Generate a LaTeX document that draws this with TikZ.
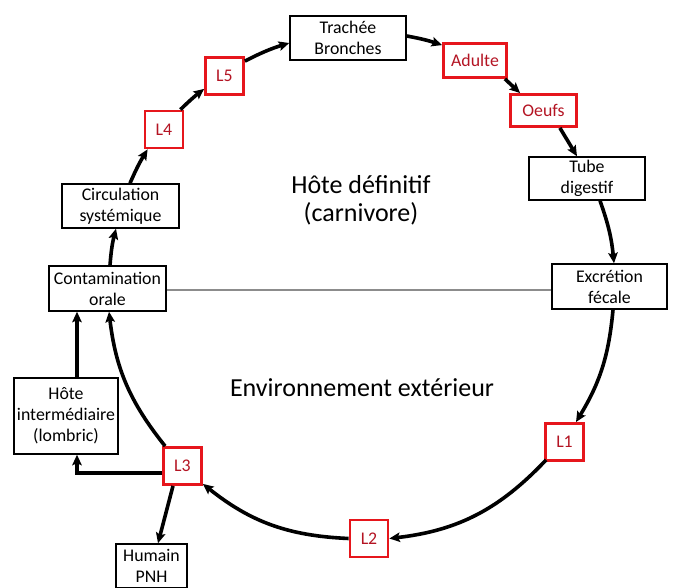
\documentclass[tikz,border=0pt]{standalone}
\usepackage{fontspec}
\setmainfont{Carlito}
\usetikzlibrary{arrows.meta}
\definecolor{stageframe}{RGB}{230,22,28}
\definecolor{stagetext}{RGB}{180,20,35}
\definecolor{divider}{RGB}{140,140,140}
\begin{document}
\begin{tikzpicture}[x=1pt,y=-1pt,
  box/.style={draw=black,line width=1.5pt,align=center,inner sep=0pt,fill=white,
    font=\fontsize{17.8}{21}\selectfont},
  stage/.style={draw=stageframe,line width=2.8pt,align=center,inner sep=0pt,fill=white,
    text=stagetext,font=\fontsize{17.8}{21}\selectfont,minimum width=38pt,minimum height=37pt},
  flow/.style={line width=3.6pt,-{Stealth[length=10.5pt,width=9.5pt,inset=2pt]}},
  big/.style={align=center,font=\fontsize{26}{28}\selectfont}
]
\useasboundingbox (0,0) rectangle (675,588);

% divider between host and environment
\draw[divider,line width=1.2pt] (166,290) -- (552,290);

% boxes
\node[box,minimum width=116pt,minimum height=44pt] (trach) at (348,38) {Trachée\\Bronches};
\node[stage,minimum width=63pt,minimum height=34pt] (adulte) at (475,60.5) {Adulte};
\node[stage,minimum width=66pt,minimum height=32pt] (oeufs) at (543.5,110.5) {Oeufs};
\node[box,minimum width=116pt,minimum height=43pt] (tube) at (587,178.5) {Tube\\digestif};
\node[box,minimum width=115pt,minimum height=45pt] (excr) at (609.5,286.5) {Excrétion\\fécale};
\node[stage] (l1) at (564.5,442) {L1};
\node[stage] (l2) at (369,538.5) {L2};
\node[stage] (l3) at (182.5,466) {L3};
\node[box,minimum width=71pt,minimum height=44pt] (hum) at (151.5,566) {Humain\\PNH};
\node[box,minimum width=104pt,minimum height=76pt] (hote) at (66,416) {Hôte\\intermédiaire\\(lombric)};
\node[box,minimum width=117pt,minimum height=45pt] (cont) at (107.5,288.5) {Contamination\\orale};
\node[box,minimum width=117pt,minimum height=44pt] (circ) at (120.5,206) {Circulation\\systémique};
\node[stage] (l4) at (164,129.5) {L4};
\node[stage] (l5) at (224.5,76) {L5};

% region labels
\node[big] (hd) at (361,200) {Hôte définitif\\(carnivore)};
\node[big] (env) at (362,388) {Environnement extérieur};

% life cycle
\draw[flow] ([xshift=2.5pt]cont.north) to[bend left=5] ([xshift=-4.5pt]circ.south);
\draw[flow] ([xshift=9.5pt]circ.north) to[bend left=4] ([xshift=4pt]l4.south west);
\draw[flow] ([xshift=-4pt]l4.north east) to[bend left=3] ([yshift=7pt]l5.south west);
\draw[flow] ([yshift=-5pt]l5.north east) to[bend left=5] ([yshift=-5pt]trach.west);
\draw[flow] ([yshift=2pt]trach.east) to[bend left=4] ([yshift=-3pt]adulte.north west);
\draw[flow] ([xshift=-3pt]adulte.south east) -- ([xshift=11pt]oeufs.north west);
\draw[flow] ([xshift=-18pt]oeufs.south east) -- ([xshift=-10pt]tube.north);
\draw[flow] ([xshift=13pt]tube.south) to[bend left=7] ([xshift=4.5pt]excr.north);
\draw[flow] ([xshift=3.5pt]excr.south) to[bend left=13] ([xshift=11.5pt]l1.north);
\draw[flow] ([xshift=2pt,yshift=2pt]l1.south west) to[bend left=20] (l2.east);
\draw[flow] (l2.west) to[bend left=18] ([yshift=2pt]l3.south east);
\draw[flow] ([xshift=3pt]l3.north west) to[bend left=16] ([xshift=1.5pt]cont.south);

% side routes from L3
\draw[flow] ([yshift=-7pt]l3.west) -| ([xshift=11pt]hote.south);
\draw[flow] ([xshift=11pt]hote.north) -- ([xshift=11pt]hote.north |- cont.south);
\draw[flow] ([xshift=-9.5pt]l3.south) -- ([xshift=6.5pt]hum.north);
\end{tikzpicture}
\end{document}
